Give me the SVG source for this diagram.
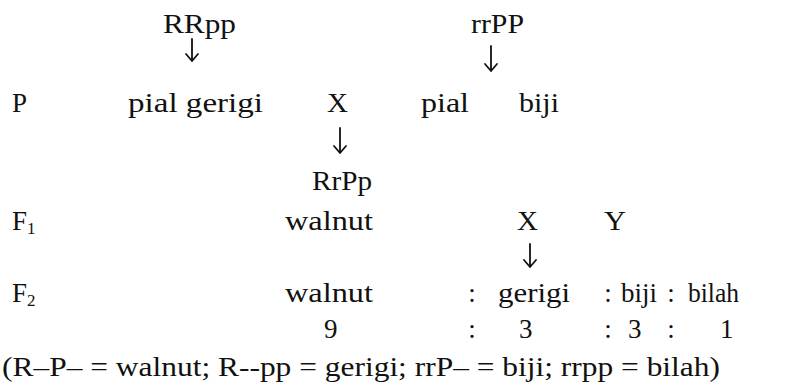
<svg xmlns="http://www.w3.org/2000/svg" width="808" height="388" viewBox="0 0 808 388">
<style>
text{font-family:"Liberation Serif","Times New Roman",serif;font-size:27px;fill:#111}
.sub{font-size:17px}
.m{text-anchor:middle}
.arr{fill:none;stroke:#111;stroke-width:1.8;stroke-linecap:round;stroke-linejoin:round}
</style>
<rect width="808" height="388" fill="#fff"/>
<g id="labels">
<text x="12" y="112">P</text>
<text x="12" y="230">F<tspan class="sub" dy="4">1</tspan></text>
<text x="12" y="302">F<tspan class="sub" dy="4">2</tspan></text>
</g>
<g id="parent1">
<text x="163" y="33" textLength="73" lengthAdjust="spacingAndGlyphs">RRpp</text>
<text x="128" y="112" textLength="135" lengthAdjust="spacingAndGlyphs">pial gerigi</text>
</g>
<g id="cross1"><text x="327" y="112" textLength="21" lengthAdjust="spacingAndGlyphs">X</text></g>
<g id="parent2">
<text x="471" y="33" textLength="53" lengthAdjust="spacingAndGlyphs">rrPP</text>
<text x="421" y="112" textLength="48" lengthAdjust="spacingAndGlyphs">pial</text>
<text x="519" y="112" textLength="40" lengthAdjust="spacingAndGlyphs">biji</text>
</g>
<g id="f1">
<text x="312" y="190" textLength="60" lengthAdjust="spacingAndGlyphs">RrPp</text>
<text x="285" y="230" textLength="88" lengthAdjust="spacingAndGlyphs">walnut</text>
</g>
<g id="cross2">
<text x="517" y="230" textLength="21" lengthAdjust="spacingAndGlyphs">X</text>
<text x="604" y="230" textLength="22" lengthAdjust="spacingAndGlyphs">Y</text>
</g>
<g id="f2">
<text x="285" y="302" textLength="88" lengthAdjust="spacingAndGlyphs">walnut</text>
<text class="m" x="472" y="302">:</text>
<text x="498" y="302" textLength="72" lengthAdjust="spacingAndGlyphs">gerigi</text>
<text class="m" x="608" y="302">:</text>
<text x="621" y="302" textLength="36" lengthAdjust="spacingAndGlyphs">biji</text>
<text class="m" x="671" y="302">:</text>
<text x="688" y="302" textLength="51" lengthAdjust="spacingAndGlyphs">bilah</text>
<text x="324" y="338">9</text>
<text class="m" x="472" y="338">:</text>
<text x="519" y="338">3</text>
<text class="m" x="608" y="338">:</text>
<text x="628" y="338">3</text>
<text class="m" x="671" y="338">:</text>
<text x="720" y="338">1</text>
</g>
<g id="legend">
<text x="2" y="376" textLength="718" lengthAdjust="spacingAndGlyphs">(R–P– = walnut; R--pp = gerigi; rrP– = biji; rrpp = bilah)</text>
</g>
<g id="connectors" class="arr">
<path d="M192 39V61M186 54L192 61L198 54"/>
<path d="M491 46V71M485 64L491 71L497 64"/>
<path d="M340 128V153M334 146L340 153L346 146"/>
<path d="M530 244V267M524 260L530 267L536 260"/>
</g>
</svg>
